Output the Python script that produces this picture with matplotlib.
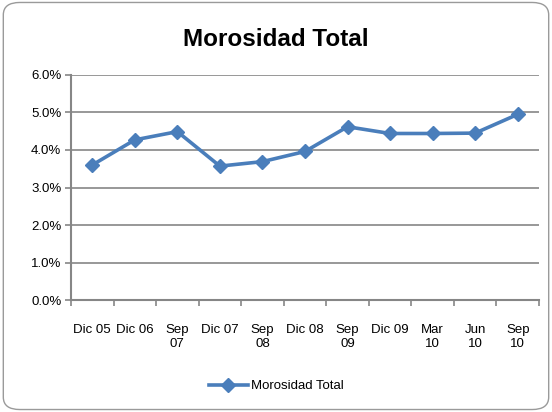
import numpy as np
import matplotlib.pyplot as plt
from matplotlib.patches import FancyBboxPatch

plt.rcParams['font.family'] = ['Liberation Sans', 'DejaVu Sans']

periodos = ['Dic 05', 'Dic 06', 'Sep\n07', 'Dic 07', 'Sep\n08', 'Dic 08',
            'Sep\n09', 'Dic 09', 'Mar\n10', 'Jun\n10', 'Sep\n10']
morosidad = [3.60, 4.27, 4.49, 3.57, 3.69, 3.96, 4.62, 4.44, 4.44, 4.45, 4.95]
yticks = [0, 1, 2, 3, 4, 5, 6]

azul = '#4A7EBB'
gris = '#868686'

fig = plt.figure(figsize=(5.52, 4.12), dpi=100)
# marco redondeado del grafico
marco = FancyBboxPatch((0.006, 0.006), 0.988, 0.988, boxstyle='round,pad=0,rounding_size=0.03',
                       transform=fig.transFigure, facecolor='white', edgecolor='#9a9a9a',
                       lw=1.0, zorder=-10)
fig.patches.append(marco)

ax = fig.add_axes([0.1286, 0.2718, 0.8478, 0.5462])
ax.set_zorder(5)
ax.set_facecolor('none')
x = np.arange(len(periodos))
ax.plot(x, morosidad, color=azul, lw=2.6, marker='D', ms=7, mfc=azul, mec=azul,
        label='Morosidad Total', zorder=3)

ax.set_xlim(-0.5, len(periodos) - 0.5)
ax.set_ylim(0, 6)
ax.set_yticks(yticks)
ax.set_yticklabels(['%.1f%%' % v for v in yticks], fontsize=9.5)
ax.yaxis.grid(True, color=gris, lw=1.2)
ax.set_axisbelow(True)

ax.set_xticks(x)
ax.set_xticklabels(periodos, fontsize=9.5, linespacing=1.3)
ax.set_xticks(np.arange(-0.5, len(periodos)), minor=True)
ax.tick_params(axis='x', which='major', length=0, pad=17)
ax.tick_params(axis='x', which='minor', length=4, color=gris, width=1.2)
ax.tick_params(axis='y', length=4, color=gris, width=1.2, pad=3)

for s in ['top', 'right']:
    ax.spines[s].set_visible(False)
for s in ['left', 'bottom']:
    ax.spines[s].set_color(gris)
    ax.spines[s].set_linewidth(1.5)

fig.text(0.5, 0.905, 'Morosidad Total', ha='center', va='center', fontsize=17.5, fontweight='bold')
fig.legend(loc='center', bbox_to_anchor=(0.5, 0.063), frameon=False, fontsize=9.5,
           handlelength=3, handletextpad=0.2)

fig.savefig('out.png', dpi=100)
